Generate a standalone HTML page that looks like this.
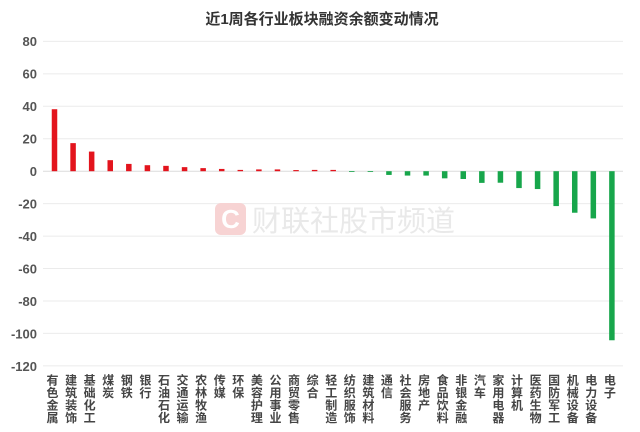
<!DOCTYPE html>
<html><head><meta charset="utf-8"><style>
html,body{margin:0;padding:0;background:#fff;}
svg{display:block;}
text{font-family:"Liberation Sans","Noto Sans CJK SC",sans-serif;}
</style></head><body>
<svg width="640" height="432" viewBox="0 0 640 432" xmlns="http://www.w3.org/2000/svg">
<rect width="640" height="432" fill="#fff"/>
<text x="322" y="24" text-anchor="middle" font-size="15" font-weight="bold" fill="#333">近1周各行业板块融资余额变动情况</text>
<g id="grid" stroke="#ebebeb" stroke-width="1">
<line x1="43" x2="623" y1="41.4" y2="41.4"/>
<line x1="43" x2="623" y1="73.9" y2="73.9"/>
<line x1="43" x2="623" y1="106.3" y2="106.3"/>
<line x1="43" x2="623" y1="138.8" y2="138.8"/>
<line x1="43" x2="623" y1="171.2" y2="171.2" stroke="#dcdcdc"/>
<line x1="43" x2="623" y1="203.6" y2="203.6"/>
<line x1="43" x2="623" y1="236.1" y2="236.1"/>
<line x1="43" x2="623" y1="268.5" y2="268.5"/>
<line x1="43" x2="623" y1="301.0" y2="301.0"/>
<line x1="43" x2="623" y1="333.4" y2="333.4"/>
<line x1="43" x2="623" y1="365.9" y2="365.9"/>
</g>
<g font-size="13" font-weight="bold" fill="#555" text-anchor="end">
<text x="37" y="46">80</text>
<text x="37" y="78.5">60</text>
<text x="37" y="111">40</text>
<text x="37" y="143.5">20</text>
<text x="37" y="176">0</text>
<text x="37" y="208.5">-20</text>
<text x="37" y="241">-40</text>
<text x="37" y="273.5">-60</text>
<text x="37" y="306">-80</text>
<text x="37" y="338.5">-100</text>
<text x="37" y="371">-120</text>
</g>
<!-- watermark -->
<g>
<rect x="215" y="203" width="31" height="32" rx="6" fill="#f7d3d3"/>
<text x="230.5" y="228" text-anchor="middle" font-size="26" font-weight="bold" fill="#fff">C</text>
<text x="252" y="231" font-size="29" fill="#e9e9e9">财联社股市频道</text>
</g>
<g id="bars"></g>
<g id="labels" font-size="12" font-weight="bold" fill="#454545" text-anchor="middle"></g>
</svg>
<script>
(function(){
var names=["有色金属","建筑装饰","基础化工","煤炭","钢铁","银行","石油石化","交通运输","农林牧渔","传媒","环保","美容护理","公用事业","商贸零售","综合","轻工制造","纺织服饰","建筑材料","通信","社会服务","房地产","食品饮料","非银金融","汽车","家用电器","计算机","医药生物","国防军工","机械设备","电力设备","电子"];
var vals=[38.2,17.3,12.1,6.8,4.5,3.7,3.3,2.5,1.9,1.4,0.8,1.1,1.1,0.7,0.8,0.8,-0.5,-0.5,-2.3,-2.7,-2.7,-4.4,-4.8,-7.2,-7.1,-10.4,-11,-21.5,-25.6,-29.1,-104.2];
var ns="http://www.w3.org/2000/svg";
var bars=document.getElementById("bars"),labels=document.getElementById("labels");
var y0=171.2,k=1.6225,w=5.5;
for(var i=0;i<names.length;i++){
  var cx=54.5+i*18.58,v=vals[i];
  var r=document.createElementNS(ns,"rect");
  var h=Math.abs(v)*k;
  r.setAttribute("x",(cx-w/2).toFixed(2));
  r.setAttribute("y",(v>=0?y0-h:y0).toFixed(2));
  r.setAttribute("width",w);
  r.setAttribute("height",Math.max(h,0.8).toFixed(2));
  r.setAttribute("fill",v>=0?"#e3141d":"#17a64b");
  bars.appendChild(r);
  var t=document.createElementNS(ns,"text");
  var s=names[i];
  for(var j=0;j<s.length;j++){
    var ts=document.createElementNS(ns,"tspan");
    ts.setAttribute("x",(cx-2).toFixed(2));
    ts.setAttribute("y",(384.5+j*12.5).toFixed(2));
    ts.textContent=s[j];
    t.appendChild(ts);
  }
  labels.appendChild(t);
}
})();
</script>
</body></html>
